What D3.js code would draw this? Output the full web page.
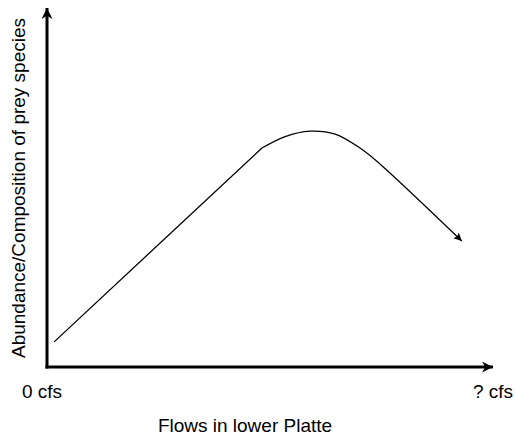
<!DOCTYPE html>
<html>
<head>
<meta charset="utf-8">
<script src="https://cdn.jsdelivr.net/npm/d3@7"></script>
<style>
  html, body { margin: 0; padding: 0; background: #fff; }
  svg { display: block; }
  text { font-family: "Liberation Sans", Arial, sans-serif; fill: #000; }
</style>
</head>
<body>
<svg id="chart" width="515" height="440"></svg>
<script>
// Conceptual response of prey species to flow (relative units, 0–100)
const riseFlow = [1.6, 48.2];
const riseValue = [7.0, 61.0];
const peakFlow = [48.2, 53.4, 59.0, 64.6, 70.2, 74.7, 93.0];
const peakValue = [61.0, 64.2, 65.7, 64.9, 61.0, 56.5, 35.1];

const flowLabels = ["0 cfs", "? cfs"];
const xTitle = "Flows in lower Platte";
const yTitle = "Abundance/Composition of prey species";

const svg = d3.select("#chart");

const x = d3.scaleLinear().domain([0, 100]).range([47, 493]);
const y = d3.scaleLinear().domain([0, 100]).range([367, 8]);

const defs = svg.append("defs");
defs.append("marker")
  .attr("id", "axisHead")
  .attr("viewBox", "0 0 10 10")
  .attr("refX", 10).attr("refY", 5)
  .attr("markerUnits", "userSpaceOnUse")
  .attr("markerWidth", 14).attr("markerHeight", 11)
  .attr("orient", "auto")
  .append("path").attr("d", "M0,0 L10,5 L0,10 L3,5 Z").attr("fill", "#000");

defs.append("marker")
  .attr("id", "curveHead")
  .attr("viewBox", "0 0 10 10")
  .attr("refX", 10).attr("refY", 5)
  .attr("markerUnits", "userSpaceOnUse")
  .attr("markerWidth", 10).attr("markerHeight", 8)
  .attr("orient", "auto")
  .append("path").attr("d", "M0,0 L10,5 L0,10 L2,5 Z").attr("fill", "#000");

// Axes drawn as arrows from the origin
svg.append("line")
  .attr("x1", x(0)).attr("y1", y(0) + 1.5)
  .attr("x2", x(0)).attr("y2", y(100))
  .attr("stroke", "#000").attr("stroke-width", 3)
  .attr("marker-end", "url(#axisHead)");

svg.append("line")
  .attr("x1", x(0) - 1.5).attr("y1", y(0))
  .attr("x2", x(100)).attr("y2", y(0))
  .attr("stroke", "#000").attr("stroke-width", 3)
  .attr("marker-end", "url(#axisHead)");

// Rising straight portion
const riseLine = d3.line()
  .x((d, i) => x(riseFlow[i]))
  .y((d, i) => y(riseValue[i]))
  .curve(d3.curveLinear);

svg.append("path")
  .attr("d", riseLine(riseFlow))
  .attr("fill", "none")
  .attr("stroke", "#000")
  .attr("stroke-width", 1.3);

// Peak and decline
const peakLine = d3.line()
  .x((d, i) => x(peakFlow[i]))
  .y((d, i) => y(peakValue[i]))
  .curve(d3.curveCatmullRom.alpha(0.5));

svg.append("path")
  .attr("d", peakLine(peakFlow))
  .attr("fill", "none")
  .attr("stroke", "#000")
  .attr("stroke-width", 1.3)
  .attr("marker-end", "url(#curveHead)");

// Labels
svg.append("text")
  .attr("x", 22).attr("y", 398)
  .attr("font-size", 19)
  .text(flowLabels[0]);

svg.append("text")
  .attr("x", 473).attr("y", 398)
  .attr("font-size", 19)
  .text(flowLabels[1]);

svg.append("text")
  .attr("x", 245).attr("y", 432)
  .attr("font-size", 19)
  .attr("text-anchor", "middle")
  .text(xTitle);

svg.append("text")
  .attr("transform", "translate(25,188) rotate(-90)")
  .attr("font-size", 19)
  .attr("text-anchor", "middle")
  .text(yTitle);
</script>
</body>
</html>
